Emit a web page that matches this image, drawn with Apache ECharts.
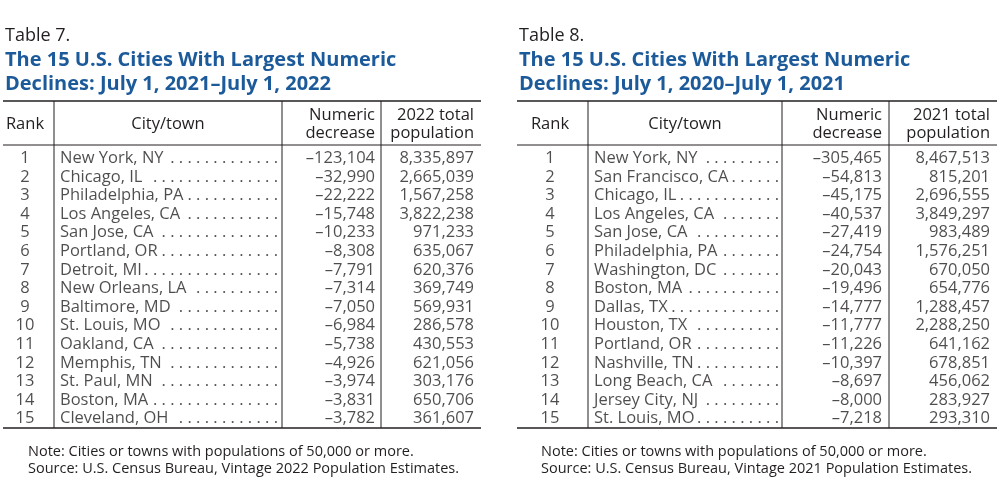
<!DOCTYPE html>
<html lang="en">

<head>
    <meta charset="UTF-8">
    <title>Largest numeric declines</title>
    <script src="https://cdn.jsdelivr.net/npm/echarts@6/dist/echarts.min.js"></script>
</head>

<style>
    html, body { margin: 0; padding: 0; background: #fff; }
    #main { width: 1000px; height: 501px; }
</style>

<body>
    <div id="main"></div>
</body>

<script>
    // ---- data ----
    let ranks = [1, 2, 3, 4, 5, 6, 7, 8, 9, 10, 11, 12, 13, 14, 15];

    let cities7 = ['New York, NY', 'Chicago, IL', 'Philadelphia, PA', 'Los Angeles, CA', 'San Jose, CA',
        'Portland, OR', 'Detroit, MI', 'New Orleans, LA', 'Baltimore, MD', 'St. Louis, MO',
        'Oakland, CA', 'Memphis, TN', 'St. Paul, MN', 'Boston, MA', 'Cleveland, OH'];
    let decrease7 = [-123104, -32990, -22222, -15748, -10233, -8308, -7791, -7314, -7050, -6984,
        -5738, -4926, -3974, -3831, -3782];
    let pop7 = [8335897, 2665039, 1567258, 3822238, 971233, 635067, 620376, 369749, 569931, 286578,
        430553, 621056, 303176, 650706, 361607];

    let cities8 = ['New York, NY', 'San Francisco, CA', 'Chicago, IL', 'Los Angeles, CA', 'San Jose, CA',
        'Philadelphia, PA', 'Washington, DC', 'Boston, MA', 'Dallas, TX', 'Houston, TX',
        'Portland, OR', 'Nashville, TN', 'Long Beach, CA', 'Jersey City, NJ', 'St. Louis, MO'];
    let decrease8 = [-305465, -54813, -45175, -40537, -27419, -24754, -20043, -19496, -14777, -11777,
        -11226, -10397, -8697, -8000, -7218];
    let pop8 = [8467513, 815201, 2696555, 3849297, 983489, 1576251, 670050, 654776, 1288457, 2288250,
        641162, 678851, 456062, 283927, 293310];

    let tableNames = ['Table 7.', 'Table 8.'];
    let titles = [
        ['The 15 U.S. Cities With Largest Numeric', 'Declines: July 1, 2021\u2013July 1, 2022'],
        ['The 15 U.S. Cities With Largest Numeric', 'Declines: July 1, 2020\u2013July 1, 2021']
    ];
    let popHeaders = [['2022 total', 'population'], ['2021 total', 'population']];
    let notes = [
        ['Note: Cities or towns with populations of 50,000 or more.',
            'Source: U.S. Census Bureau, Vintage 2022 Population Estimates.'],
        ['Note: Cities or towns with populations of 50,000 or more.',
            'Source: U.S. Census Bureau, Vintage 2021 Population Estimates.']
    ];

    // ---- layout ----
    let font = '"Open Sans", sans-serif';
    let textColor = '#231f20';
    let blue = '#1c5a9a';
    let bodySize = 16.5;
    let rowTop = 149, rowBottom = 428, ruleTop = 101, ruleMid = 145;

    // column positions are in px from the table's left edge
    let tables = [
        { x: 3, w: 478, rankX: 22, sep1: 51, cityL: 57, cityR: 275, sep2: 279, decX: 372, sep3: 378, popX: 471, noteX: 28,
            cities: cities7, decVals: decrease7, popVals: pop7 },
        { x: 517, w: 480, rankX: 33, sep1: 71, cityL: 77, cityR: 262, sep2: 265, decX: 365, sep3: 372, popX: 473, noteX: 541,
            cities: cities8, decVals: decrease8, popVals: pop8 }
    ];

    function fmt(v) {
        let s = Math.abs(v).toLocaleString('en-US');
        return v < 0 ? '\u2013' + s : s;
    }

    let ctx = document.createElement('canvas').getContext('2d');
    ctx.font = bodySize + 'px ' + font;
    function leader(name, avail) {
        let w = ctx.measureText(name).width;
        let dotW = ctx.measureText('. ').width;
        let n = Math.floor((avail - w + 2) / dotW);
        let s = '';
        for (let k = 0; k < n; k++) s += (k ? ' ' : '') + '.';
        return s;
    }

    var myChart = echarts.init(document.getElementById('main'), null, { renderer: 'canvas' });

    let grids = [], xAxes = [], yAxes = [], series = [], graphics = [];

    function textSeries(ti, colX, texts, align) {
        return {
            type: 'scatter',
            xAxisIndex: ti,
            yAxisIndex: ti,
            symbolSize: 0,
            silent: true,
            data: texts.map(function (t, i) { return { value: [colX, i], name: t }; }),
            label: {
                show: true,
                position: 'inside',
                align: align,
                verticalAlign: 'middle',
                formatter: '{b}',
                color: textColor,
                fontFamily: font,
                fontSize: bodySize
            }
        };
    }

    function gText(x, y, text, opt) {
        graphics.push({
            type: 'text',
            x: x, y: y,
            silent: true,
            style: Object.assign({
                text: text,
                fill: textColor,
                font: bodySize + 'px ' + font,
                textAlign: 'left',
                textVerticalAlign: 'middle'
            }, opt || {})
        });
    }

    function gLine(x1, y1, x2, y2, w) {
        graphics.push({
            type: 'line',
            silent: true,
            shape: { x1: x1, y1: y1, x2: x2, y2: y2 },
            style: { stroke: textColor, lineWidth: w }
        });
    }

    tables.forEach(function (t, ti) {
        grids.push({ left: t.x, top: rowTop, width: t.w, height: rowBottom - rowTop });
        xAxes.push({ type: 'value', gridIndex: ti, min: 0, max: t.w, show: false });
        yAxes.push({ type: 'category', gridIndex: ti, inverse: true, show: false,
            data: ranks.map(String) });

        series.push(textSeries(ti, t.rankX, ranks.map(String), 'center'));
        series.push(textSeries(ti, t.cityL, t.cities, 'left'));
        series.push(textSeries(ti, t.cityR, t.cities.map(function (c) {
            return leader(c, t.cityR - t.cityL);
        }), 'right'));
        series.push(textSeries(ti, t.decX, t.decVals.map(fmt), 'right'));
        series.push(textSeries(ti, t.popX, t.popVals.map(fmt), 'right'));

        // titles
        gText(t.x + 2, 36, tableNames[ti], { font: '18px ' + font });
        gText(t.x + 2, 60, titles[ti][0], { font: 'bold 20px ' + font, fill: blue });
        gText(t.x + 2, 84, titles[ti][1], { font: 'bold 20px ' + font, fill: blue });

        // header
        gText(t.x + t.rankX, 124, 'Rank', { textAlign: 'center' });
        gText(t.x + (t.sep1 + t.sep2) / 2, 124, 'City/town', { textAlign: 'center' });
        gText(t.x + t.decX, 115, 'Numeric', { textAlign: 'right' });
        gText(t.x + t.decX, 133, 'decrease', { textAlign: 'right' });
        gText(t.x + t.popX, 115, popHeaders[ti][0], { textAlign: 'right' });
        gText(t.x + t.popX, 133, popHeaders[ti][1], { textAlign: 'right' });

        // rules
        gLine(t.x, ruleTop, t.x + t.w, ruleTop, 1.5);
        gLine(t.x, ruleMid, t.x + t.w, ruleMid, 1);
        gLine(t.x, rowBottom, t.x + t.w, rowBottom, 1.5);
        [t.sep1, t.sep2, t.sep3].forEach(function (s) {
            gLine(t.x + s, ruleTop, t.x + s, rowBottom, 1);
        });

        // notes
        gText(t.noteX, 452, notes[ti][0], { font: '14.5px ' + font });
        gText(t.noteX, 469, notes[ti][1], { font: '14.5px ' + font });
    });

    option = {
        animation: false,
        grid: grids,
        xAxis: xAxes,
        yAxis: yAxes,
        series: series,
        graphic: graphics
    };

    myChart.setOption(option);
    window.addEventListener('resize', function () {
        myChart.resize();
    });
</script>

</html>
